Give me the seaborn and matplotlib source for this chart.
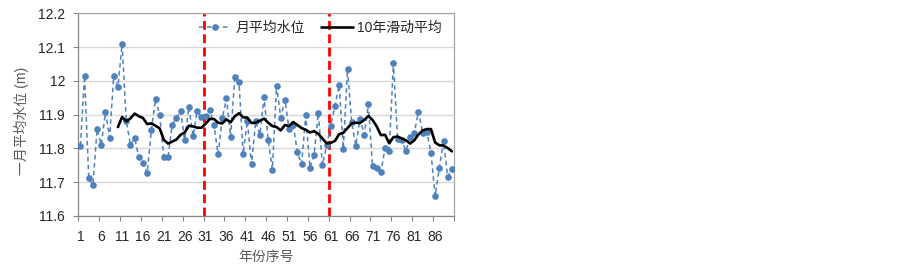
import matplotlib
matplotlib.use("Agg")
import matplotlib.pyplot as plt
from matplotlib.ticker import FixedLocator, FuncFormatter
import pandas as pd
import seaborn as sns

# year index 1..90
years = list(range(1, 91))

# monthly mean water level (m)
level = [
    11.808, 12.015, 11.713, 11.690, 11.857, 11.810, 11.907, 11.832, 12.015, 11.982,
    12.110, 11.880, 11.810, 11.830, 11.775, 11.757, 11.726, 11.853, 11.947, 11.898,
    11.774, 11.774, 11.870, 11.890, 11.911, 11.825, 11.923, 11.836, 11.912, 11.893,
    11.897, 11.914, 11.869, 11.782, 11.889, 11.948, 11.834, 12.012, 11.997, 11.782,
    11.882, 11.752, 11.880, 11.840, 11.951, 11.825, 11.737, 11.986, 11.891, 11.944,
    11.857, 11.870, 11.788, 11.753, 11.898, 11.742, 11.781, 11.905, 11.750, 11.809,
    11.867, 11.926, 11.988, 11.798, 12.035, 11.877, 11.808, 11.888, 11.840, 11.930,
    11.747, 11.742, 11.729, 11.801, 11.791, 12.054, 11.827, 11.824, 11.792, 11.835,
    11.846, 11.909, 11.846, 11.848, 11.787, 11.658, 11.742, 11.821, 11.715, 11.740,
]

# 10-year moving average, starts at year 10
ma_start = 10
moving_avg = [
    11.863, 11.893, 11.880, 11.889, 11.903, 11.895, 11.890, 11.872, 11.874, 11.867,
    11.859, 11.825, 11.814, 11.820, 11.826, 11.840, 11.847, 11.867, 11.865, 11.861,
    11.861, 11.873, 11.887, 11.887, 11.876, 11.874, 11.886, 11.877, 11.895, 11.904,
    11.892, 11.891, 11.875, 11.876, 11.882, 11.888, 11.876, 11.866, 11.863, 11.853,
    11.869, 11.866, 11.878, 11.869, 11.860, 11.855, 11.847, 11.851, 11.843, 11.829,
    11.815, 11.816, 11.822, 11.842, 11.846, 11.860, 11.874, 11.876, 11.875, 11.884,
    11.896, 11.884, 11.865, 11.839, 11.840, 11.815, 11.833, 11.835, 11.829, 11.824,
    11.814, 11.824, 11.841, 11.853, 11.857, 11.857, 11.817, 11.809, 11.808, 11.801,
    11.791,
]

split_years = [30.5, 60.5]
x_labels = list(range(1, 87, 5))

df = pd.DataFrame({"year": years, "level": level})
df_ma = pd.DataFrame({"year": years[ma_start - 1:], "ma": moving_avg})

sns.set_theme(style="white")
plt.rcParams["font.family"] = ["Liberation Sans", "Noto Sans CJK SC"]
plt.rcParams["axes.unicode_minus"] = False

fig = plt.figure(figsize=(9.03, 2.69), dpi=100)
ax = fig.add_axes([0.0867, 0.198, 0.416, 0.752])

for xv in split_years:
    ax.axvline(xv, color="#FF0000", lw=2.0, dashes=(3.2, 1.6), zorder=1)

sns.lineplot(data=df, x="year", y="level", ax=ax, color="#4F81BD", lw=1.1,
             marker="o", markersize=4.8, markeredgewidth=0, label="月平均水位", zorder=3)
ax.lines[-1].set_dashes((3, 2.2))
sns.lineplot(data=df_ma, x="year", y="ma", ax=ax, color="black", lw=1.9,
             label="10年滑动平均", zorder=4)

ax.set_xlim(0.5, 90.5)
ax.set_ylim(11.6, 12.2)
ax.set_yticks([11.6, 11.7, 11.8, 11.9, 12.0, 12.1, 12.2])
ax.yaxis.set_major_formatter(FuncFormatter(lambda v, p: "%g" % round(v, 1)))
ax.grid(axis="y", color="#D9D9D9", lw=1.0)
ax.set_axisbelow(True)

ax.xaxis.set_major_locator(FixedLocator([0.5 + 5 * k for k in range(19)]))
ax.xaxis.set_major_formatter(FuncFormatter(lambda v, p: ""))
ax.xaxis.set_minor_locator(FixedLocator(x_labels))
ax.xaxis.set_minor_formatter(FuncFormatter(lambda v, p: "%d" % v))
ax.tick_params(axis="x", which="major", direction="out", length=3.5, width=0.8,
               color="#868686", bottom=True)
ax.tick_params(axis="x", which="minor", length=0, pad=10, labelsize=10,
               labelcolor="#262626", bottom=True)
ax.tick_params(axis="y", direction="out", length=3.5, width=0.8, color="#868686",
               pad=6, labelsize=10, labelcolor="#262626", left=True)

for side in ["left", "bottom"]:
    ax.spines[side].set_color("#868686")
    ax.spines[side].set_linewidth(0.9)
for side in ["top", "right"]:
    ax.spines[side].set_color("#A6A6A6")
    ax.spines[side].set_linewidth(0.9)

ax.set_xlabel("年份序号", fontsize=10, color="#595959")
ax.set_ylabel("一月平均水位 (m)", fontsize=10, color="#595959")
ax.xaxis.set_label_coords(0.5, -0.17)
ax.yaxis.set_label_coords(-0.13, 0.47)

ax.legend(loc="center", bbox_to_anchor=(0.645, 0.93), ncol=2, frameon=False,
          fontsize=10, handlelength=2.3, handletextpad=0.3, columnspacing=1.2)

fig.savefig("out.png", dpi=100)
